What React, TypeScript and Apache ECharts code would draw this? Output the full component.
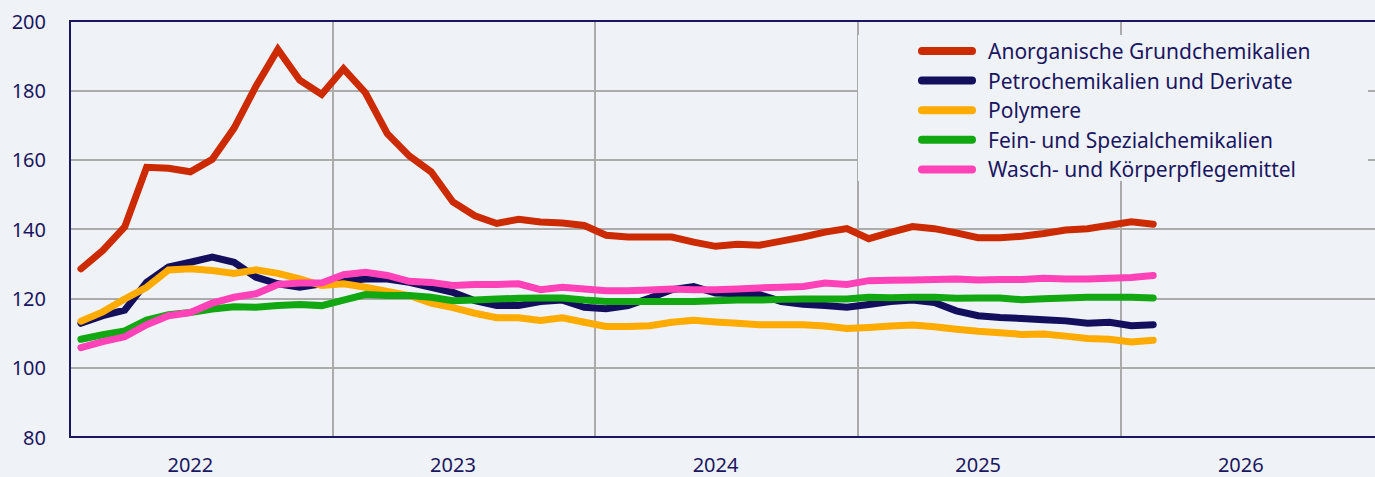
import React, { useEffect, useRef } from "react";
import * as echarts from "echarts";

const YEARS = ["2022", "2023", "2024", "2025", "2026"];
const MONTHS = ["01", "02", "03", "04", "05", "06", "07", "08", "09", "10", "11", "12"];
const CATEGORIES: string[] = [];
YEARS.forEach((y) => MONTHS.forEach((m) => CATEGORIES.push(`${y}-${m}`)));

const SERIES_NAMES = [
  "Anorganische Grundchemikalien",
  "Petrochemikalien und Derivate",
  "Polymere",
  "Fein- und Spezialchemikalien",
  "Wasch- und Körperpflegemittel",
];

const anorganisch = [
  128.5, 133.8, 140.6, 157.8, 157.5, 156.5, 160.1, 169.1, 181.2, 191.8,
  182.9, 178.8, 186.2, 179.3, 167.5, 161.1, 156.5, 147.8, 143.8, 141.6,
  142.8, 142.0, 141.7, 141.0, 138.2, 137.7, 137.7, 137.7, 136.2, 135.0,
  135.6, 135.3, 136.5, 137.7, 139.1, 140.1, 137.2, 139.0, 140.7, 140.1,
  138.9, 137.5, 137.5, 137.9, 138.7, 139.7, 140.1, 141.1, 142.1, 141.4,
];
const petro = [
  112.8, 115.0, 116.6, 124.6, 129.0, 130.4, 131.9, 130.4, 126.1, 124.2,
  123.2, 124.2, 125.0, 125.6, 125.6, 124.6, 123.2, 121.7, 119.3, 117.9,
  117.9, 119.1, 119.5, 117.4, 117.0, 117.9, 120.1, 122.5, 123.4, 121.5,
  121.3, 121.1, 119.1, 118.3, 117.9, 117.4, 118.2, 119.1, 119.5, 118.8,
  116.4, 115.0, 114.5, 114.2, 113.8, 113.5, 112.8, 113.1, 112.1, 112.4,
];
const polymere = [
  113.4, 116.1, 119.8, 123.2, 128.2, 128.5, 128.0, 127.2, 128.2, 127.2,
  125.6, 123.7, 124.2, 123.2, 122.0, 120.8, 118.6, 117.3, 115.7, 114.4,
  114.4, 113.6, 114.4, 113.1, 111.9, 111.9, 112.1, 113.1, 113.7, 113.2,
  112.8, 112.4, 112.4, 112.4, 112.0, 111.3, 111.6, 112.0, 112.3, 111.8,
  111.1, 110.5, 110.1, 109.6, 109.7, 109.1, 108.4, 108.2, 107.4, 107.9,
];
const feinSpezial = [
  108.2, 109.5, 110.6, 113.7, 115.3, 115.9, 116.9, 117.6, 117.4, 117.9,
  118.2, 117.9, 119.5, 121.1, 120.8, 120.8, 120.3, 119.3, 119.5, 119.8,
  120.0, 120.1, 120.1, 119.5, 119.1, 119.1, 119.1, 119.1, 119.1, 119.3,
  119.5, 119.5, 119.7, 119.8, 119.8, 119.8, 120.3, 120.2, 120.3, 120.3,
  120.0, 120.1, 120.1, 119.6, 119.9, 120.1, 120.3, 120.3, 120.3, 120.1,
];
const waschKoerper = [
  105.8, 107.5, 108.9, 112.4, 115.0, 115.9, 118.6, 120.3, 121.3, 124.0,
  124.4, 124.4, 126.8, 127.5, 126.6, 124.9, 124.6, 123.7, 124.0, 124.0,
  124.2, 122.5, 123.2, 122.7, 122.2, 122.2, 122.4, 122.7, 122.5, 122.5,
  122.7, 123.0, 123.2, 123.4, 124.4, 124.0, 125.1, 125.2, 125.3, 125.4,
  125.6, 125.3, 125.4, 125.4, 125.8, 125.6, 125.6, 125.8, 126.0, 126.6,
];

const SERIES_DATA = [anorganisch, petro, polymere, feinSpezial, waschKoerper];
const COLORS = ["#cc2a00", "#140f5c", "#ffab00", "#12a812", "#ff42b7"];

const BG = "#eff3f8";
const NAVY = "#1b1660";
const GRIDGRAY = "#ababab";
const FONT = "'Noto Sans', sans-serif";

export default function App() {
  const ref = useRef<HTMLDivElement>(null);
  useEffect(() => {
    if (!ref.current) return;
    const chart = echarts.init(ref.current, undefined, { renderer: "svg" });
    chart.setOption({
      animation: false,
      backgroundColor: BG,
      textStyle: { fontFamily: FONT },
      grid: {
        left: 70,
        width: 1313,
        top: 21,
        height: 416,
        containLabel: false,
        outerBoundsMode: "none",
      },
      xAxis: [
        {
          type: "category",
          data: CATEGORIES,
          boundaryGap: true,
          axisLine: { show: true, lineStyle: { color: NAVY, width: 2 } },
          axisTick: { show: false },
          axisLabel: {
            interval: (index: number) => index % 12 === 5,
            formatter: (v: string) => v.slice(0, 4),
            color: NAVY,
            fontSize: 20,
            fontFamily: FONT,
            margin: 17,
            lineHeight: 20,
          },
          splitLine: {
            show: true,
            interval: (index: number) => index > 0 && index % 12 === 0,
            lineStyle: { color: GRIDGRAY, width: 2 },
          },
        },
        {
          type: "category",
          data: CATEGORIES,
          position: "top",
          axisLine: { show: true, lineStyle: { color: NAVY, width: 2 } },
          axisTick: { show: false },
          axisLabel: { show: false },
          splitLine: { show: false },
        },
      ],
      yAxis: {
        type: "value",
        min: 80,
        max: 200,
        interval: 20,
        axisLine: { show: true, lineStyle: { color: NAVY, width: 2 } },
        axisTick: { show: false },
        axisLabel: { color: NAVY, fontSize: 20, fontFamily: FONT, margin: 24 },
        splitLine: {
          show: true,
          showMinLine: false,
          showMaxLine: false,
          lineStyle: { color: GRIDGRAY, width: 2 },
        },
      },
      legend: {
        show: true,
        orient: "vertical",
        left: 918,
        top: 40,
        padding: 0,
        itemGap: 7.6,
        itemWidth: 58,
        itemHeight: 8,
        selectedMode: false,
        icon: "path://M4 0H54A4 4 0 0 1 54 8H4A4 4 0 0 1 4 0Z",
        textStyle: {
          color: NAVY,
          fontSize: 21,
          fontFamily: FONT,
          lineHeight: 22,
          padding: [0, 0, 0, 7],
        },
        data: SERIES_NAMES,
      },
      graphic: [
        {
          type: "rect",
          z: 3,
          shape: { x: 858, y: 35, width: 510, height: 146 },
          style: { fill: BG },
        },
      ],
      series: SERIES_NAMES.map((name, i) => ({
        name,
        type: "line",
        data: SERIES_DATA[i],
        symbol: "none",
        color: COLORS[i],
        lineStyle: { color: COLORS[i], width: 7, cap: "round", join: "miter" },
        emphasis: { disabled: true },
        silent: true,
      })),
    });
    return () => chart.dispose();
  }, []);
  return (
    <div
      ref={ref}
      style={{ position: "fixed", left: 0, top: 0, width: 1375, height: 477 }}
    />
  );
}
